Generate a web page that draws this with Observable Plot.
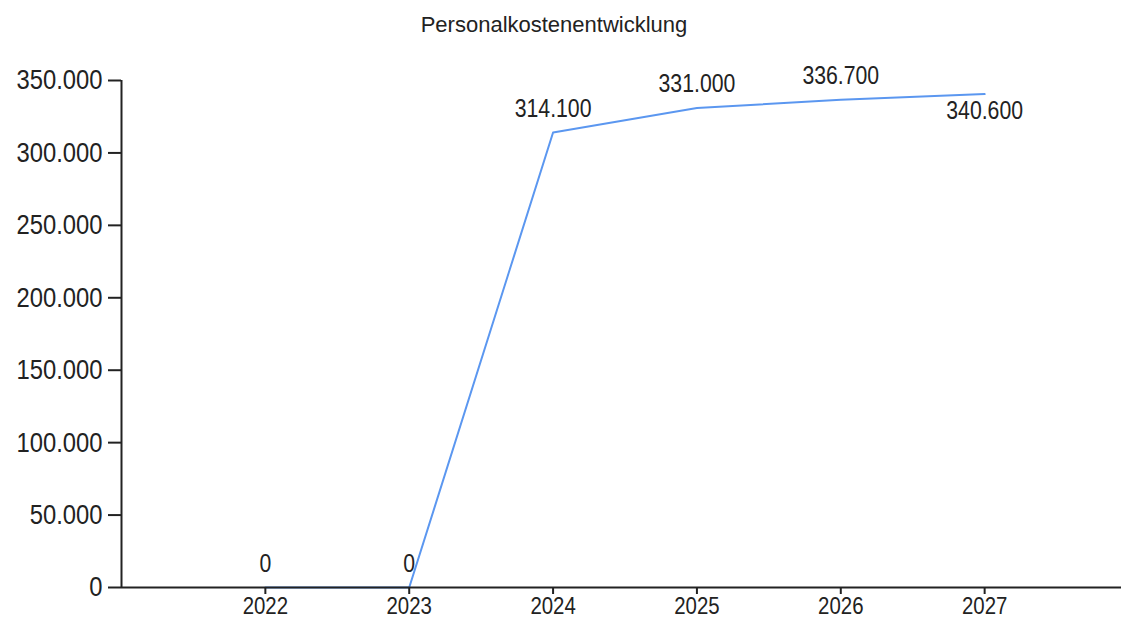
<!DOCTYPE html>
<html>
<head>
<meta charset="utf-8">
<script src="https://cdn.jsdelivr.net/npm/d3@7"></script>
<script src="https://cdn.jsdelivr.net/npm/@observablehq/plot@0.6"></script>
<style>
  html, body { margin: 0; padding: 0; background: #fff; }
  #wrap { width: 1121px; height: 618px; overflow: hidden; }
  #title { width: 1108px; height: 46px; text-align: center; font-family: "Liberation Sans", Arial, sans-serif; font-size: 22px; line-height: 50px; color: #222; }
  svg { display: block; }
</style>
</head>
<body>
<div id="wrap">
  <div id="title">Personalkostenentwicklung</div>
  <div id="chart"></div>
</div>
<script>
const years = [2022, 2023, 2024, 2025, 2026, 2027];
const costs = [0, 0, 314100, 331000, 336700, 340600];
const yTicks = [0, 50000, 100000, 150000, 200000, 250000, 300000, 350000];

const de = d3.formatLocale({decimal: ",", thousands: ".", grouping: [3], currency: ["", " €"]});
const fmt = de.format(",d");

const data = years.map((y, i) => ({year: y, value: costs[i], below: i === years.length - 1}));

const numFont = '"Liberation Sans", Arial, sans-serif';
const lineColor = "#5b97f0";
const ink = "#222";

const chart = Plot.plot({
  width: 1121,
  height: 572,
  marginLeft: 121,
  marginRight: 0,
  marginTop: 34,
  marginBottom: 31,
  style: {fontFamily: numFont, color: ink, background: "white"},
  x: {domain: [2021, 2028], range: [121, 1128]},
  y: {domain: [0, 350000]},
  marks: [
    Plot.line(data, {x: "year", y: "value", stroke: lineColor, strokeWidth: 2}),
    Plot.ruleY([0], {stroke: ink, strokeWidth: 2}),
    Plot.ruleX([2021], {y1: 0, y2: 350000, stroke: ink, strokeWidth: 2}),
    Plot.axisY({ticks: yTicks, tickFormat: fmt, tickSize: 13, tickPadding: 6, fontSize: 28, stroke: ink, strokeWidth: 2, label: null, fill: ink}),
    Plot.axisX({ticks: years, tickFormat: "d", tickSize: 7, tickPadding: 2, fontSize: 24, stroke: ink, strokeWidth: 2, label: null, fill: ink}),
    Plot.text(data.filter(d => !d.below), {x: "year", y: "value", text: d => fmt(d.value), dy: -24, fontSize: 25, fill: ink}),
    Plot.text(data.filter(d => d.below), {x: "year", y: "value", text: d => fmt(d.value), dy: 17, fontSize: 25, fill: ink})
  ]
});
document.getElementById("chart").appendChild(chart);
// condense numeric labels horizontally to match the narrow face of the reference
chart.querySelectorAll("text").forEach(t => {
  const len = t.getComputedTextLength();
  if (len > 0) {
    t.setAttribute("textLength", (len * 0.85).toFixed(1));
    t.setAttribute("lengthAdjust", "spacingAndGlyphs");
  }
});
</script>
</body>
</html>
